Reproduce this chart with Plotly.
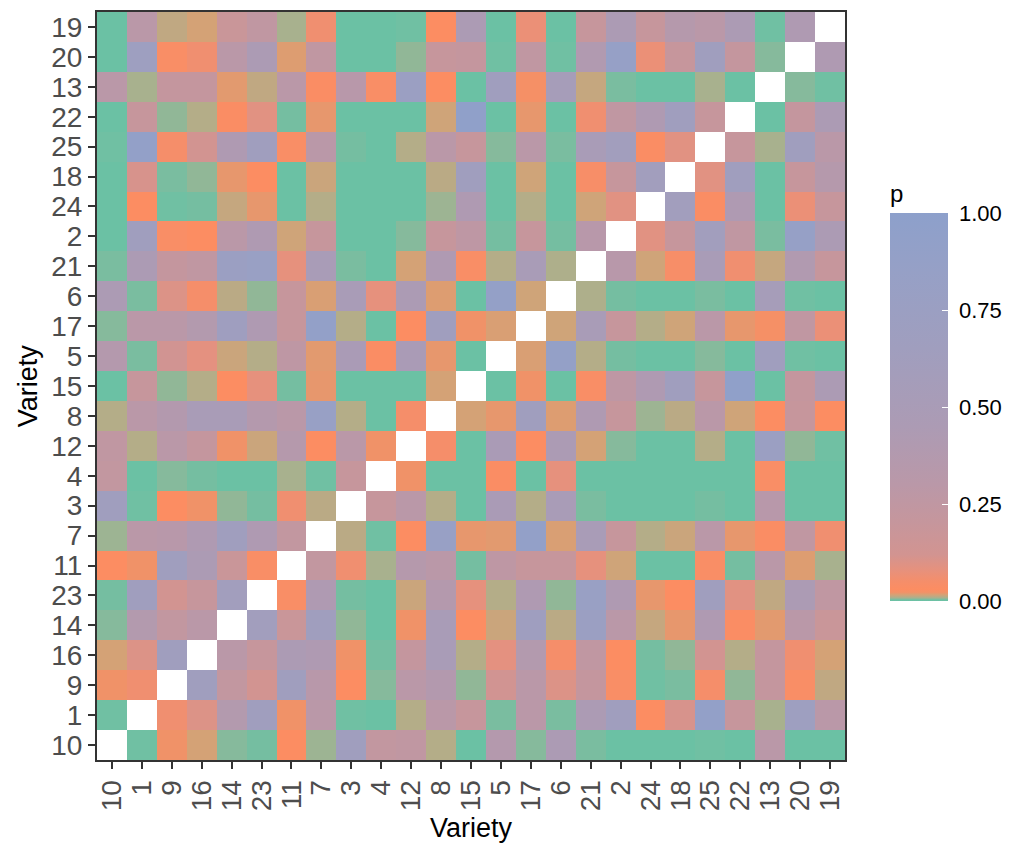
import numpy as np
import plotly.graph_objects as go

# variety order used on both axes (first = bottom / left)
varieties = ["10", "1", "9", "16", "14", "23", "11", "7", "3", "4", "12", "8", "15",
             "5", "17", "6", "21", "2", "24", "18", "25", "22", "13", "20", "19"]

# lower triangle of the p-value matrix, row i holds columns 0..i-1
p_lower = [
    [],
    [0.002],
    [0.022, 0.06],
    [0.016, 0.1, 0.65],
    [0.005, 0.38, 0.23, 0.3],
    [0.003, 0.65, 0.12, 0.2, 0.62],
    [0.03, 0.022, 0.65, 0.45, 0.18, 0.04],
    [0.007, 0.3, 0.32, 0.42, 0.65, 0.42, 0.23],
    [0.65, 0.002, 0.03, 0.022, 0.006, 0.003, 0.06, 0.011],
    [0.23, 0.001, 0.005, 0.003, 0.001, 0.001, 0.008, 0.002, 0.2],
    [0.25, 0.01, 0.3, 0.22, 0.022, 0.014, 0.35, 0.03, 0.3, 0.022],
    [0.01, 0.3, 0.37, 0.5, 0.5, 0.36, 0.3, 0.82, 0.01, 0.001, 0.05],
    [0.001, 0.2, 0.006, 0.01, 0.03, 0.08, 0.003, 0.02, 0.001, 0.001, 0.001, 0.016],
    [0.36, 0.004, 0.13, 0.085, 0.014, 0.01, 0.27, 0.019, 0.48, 0.035, 0.48, 0.02, 0.001],
    [0.005, 0.3, 0.3, 0.38, 0.68, 0.42, 0.2, 0.9, 0.01, 0.001, 0.03, 0.65, 0.022, 0.017],
    [0.45, 0.004, 0.1, 0.05, 0.011, 0.006, 0.2, 0.017, 0.5, 0.08, 0.45, 0.018, 0.001, 0.88, 0.015],
    [0.004, 0.45, 0.22, 0.25, 0.75, 0.8, 0.08, 0.5, 0.004, 0.001, 0.016, 0.42, 0.04, 0.01, 0.5, 0.009],
    [0.001, 0.65, 0.04, 0.03, 0.3, 0.42, 0.015, 0.2, 0.001, 0.001, 0.005, 0.2, 0.27, 0.003, 0.2, 0.003,
     0.32],
    [0.001, 0.03, 0.002, 0.003, 0.013, 0.02, 0.001, 0.01, 0.001, 0.001, 0.001, 0.007, 0.42, 0.001, 0.01,
     0.001, 0.015, 0.09],
    [0.001, 0.11, 0.004, 0.006, 0.02, 0.03, 0.001, 0.014, 0.001, 0.001, 0.001, 0.011, 0.65, 0.001, 0.015,
     0.001, 0.045, 0.2, 0.62],
    [0.002, 0.9, 0.05, 0.12, 0.42, 0.65, 0.04, 0.3, 0.003, 0.001, 0.01, 0.3, 0.2, 0.005, 0.3, 0.004,
     0.5, 0.62, 0.035, 0.09],
    [0.001, 0.2, 0.006, 0.01, 0.035, 0.09, 0.003, 0.02, 0.001, 0.001, 0.001, 0.015, 0.95, 0.001, 0.02,
     0.001, 0.06, 0.25, 0.42, 0.65, 0.2],
    [0.3, 0.008, 0.22, 0.22, 0.019, 0.012, 0.3, 0.035, 0.32, 0.04, 0.75, 0.03, 0.001, 0.65, 0.025, 0.55,
     0.013, 0.004, 0.001, 0.001, 0.008, 0.001],
    [0.001, 0.7, 0.04, 0.06, 0.3, 0.45, 0.018, 0.25, 0.001, 0.001, 0.006, 0.2, 0.22, 0.002, 0.25, 0.002,
     0.4, 0.85, 0.07, 0.2, 0.65, 0.22, 0.005],
    [0.001, 0.3, 0.012, 0.016, 0.18, 0.25, 0.008, 0.06, 0.001, 0.001, 0.002, 0.03, 0.45, 0.001, 0.07,
     0.001, 0.2, 0.45, 0.2, 0.35, 0.3, 0.45, 0.002, 0.42],
]

# colour bar ticks
bar_ticks = [0, 0.25, 0.5, 0.75, 1]
bar_labels = ["0.00", "0.25", "0.50", "0.75", "1.00"]

n = len(varieties)
p = np.full((n, n), np.nan)
for i, row in enumerate(p_lower):
    for j, v in enumerate(row):
        p[i, j] = v
        p[j, i] = v

# green -> orange -> blue, most of the change packed near 0
scale = [
    [0.0, "rgb(102,194,165)"],
    [0.004, "rgb(122,189,160)"],
    [0.008, "rgb(168,177,142)"],
    [0.012, "rgb(192,168,130)"],
    [0.016, "rgb(212,162,118)"],
    [0.022, "rgb(240,146,104)"],
    [0.03, "rgb(252,141,98)"],
    [0.05, "rgb(245,142,106)"],
    [0.08, "rgb(230,145,125)"],
    [0.12, "rgb(210,148,145)"],
    [0.2, "rgb(198,150,156)"],
    [0.3, "rgb(186,152,168)"],
    [0.45, "rgb(172,155,180)"],
    [0.65, "rgb(160,158,190)"],
    [0.85, "rgb(150,160,198)"],
    [1.0, "rgb(141,160,203)"],
]

fig = go.Figure(go.Heatmap(
    x=varieties, y=varieties, z=p,
    zmin=0, zmax=1, colorscale=scale,
    colorbar=dict(
        title=dict(text="p", side="top", font=dict(size=24, color="black")),
        x=1.06, xanchor="left", xpad=0,
        y=0.212, yanchor="bottom", ypad=0,
        len=420, lenmode="pixels", thickness=58,
        outlinewidth=0,
        tickmode="array", tickvals=bar_ticks,
        ticktext=["\u00a0" + t for t in bar_labels],
        ticks="inside", tickcolor="white", ticklen=6,
        tickfont=dict(size=22, color="black"),
    ),
    hoverongaps=False,
))

axis_style = dict(
    type="category", showgrid=False, zeroline=False,
    showline=True, linecolor="#333333", linewidth=2, mirror=True,
    ticks="outside", ticklen=7, tickwidth=2, tickcolor="#333333",
    tickmode="array", tickvals=varieties, ticktext=varieties,
    tickfont=dict(size=28, color="#4D4D4D"),
    automargin=False,
)

# page body adds 8px around the figure, so the figure is 8px smaller
fig.update_layout(
    width=1003, height=835,
    margin=dict(l=89, r=166, t=4, b=83, autoexpand=False),
    paper_bgcolor="white", plot_bgcolor="white",
    font=dict(family="Liberation Sans, Arial, sans-serif"),
    annotations=[
        dict(text="Variety", xref="paper", yref="paper", x=0.5, y=-0.091,
             xanchor="center", yanchor="middle", showarrow=False,
             font=dict(size=27, color="black")),
        dict(text="Variety", xref="paper", yref="paper", x=-0.092, y=0.5,
             xanchor="center", yanchor="middle", showarrow=False, textangle=-90,
             font=dict(size=27, color="black")),
    ],
)
fig.update_xaxes(axis_style, tickangle=-90)
fig.update_yaxes(axis_style)

fig.write_html("out.html")
